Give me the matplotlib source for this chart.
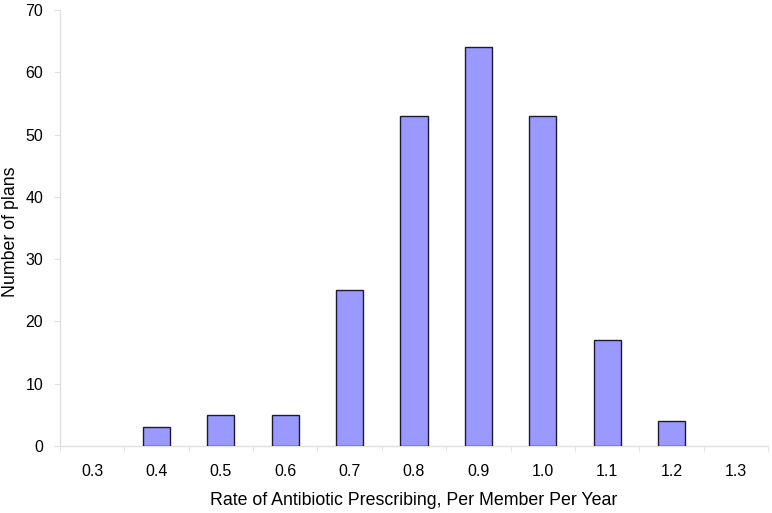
import matplotlib
matplotlib.use("Agg")
import matplotlib.pyplot as plt
import numpy as np

categories = ["0.3", "0.4", "0.5", "0.6", "0.7", "0.8", "0.9", "1.0", "1.1", "1.2", "1.3"]
counts = [0, 3, 5, 5, 25, 53, 64, 53, 17, 4, 0]

plt.rcParams['font.family'] = ['Liberation Sans', 'DejaVu Sans']

fig = plt.figure(figsize=(7.72, 5.13), dpi=100)
ax = fig.add_axes([60/772, 1-446/513, 708/772, 436/513])

x = np.arange(len(categories))
vals = np.array(counts, dtype=float)
nz = vals > 0
ax.bar(x[nz], vals[nz], width=0.42, color='#9999FF', edgecolor='#1a1a33', linewidth=1.0, zorder=3)

ax.set_xlim(-0.5, len(categories) - 0.5)
ax.set_ylim(0, 70)
ax.set_yticks(range(0, 71, 10))
ax.set_xticks(x)
ax.set_xticklabels(categories)
ax.set_xticks(np.arange(-0.5, len(categories), 1), minor=True)
ax.tick_params(axis='x', which='major', length=0, pad=13, labelsize=11.5)
ax.tick_params(axis='x', which='minor', length=4, color='#e0e0e0', direction='out')
ax.tick_params(axis='y', length=4, color='#e0e0e0', labelsize=11.5, pad=8)

for s in ['top', 'right']:
    ax.spines[s].set_visible(False)
for s in ['left', 'bottom']:
    ax.spines[s].set_color('#e0e0e0')
    ax.spines[s].set_linewidth(1.0)

ax.set_xlabel('Rate of Antibiotic Prescribing, Per Member Per Year', fontsize=12.8, labelpad=9)
fig.text(11/772, 1-232/513, 'Number of plans', fontsize=12.8, rotation=90,
         ha='center', va='center')

fig.savefig('out.png', dpi=100)
